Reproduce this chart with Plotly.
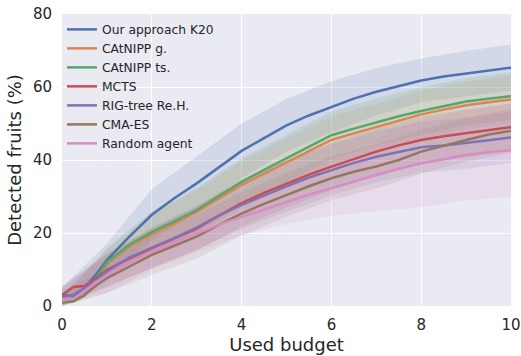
import plotly.graph_objects as go

budget = [0, 0.25, 0.5, 0.75, 1, 1.5, 2, 2.5, 3, 3.5, 4, 4.5, 5, 5.5, 6, 6.5, 7, 7.5, 8, 8.5, 9, 9.5, 10]

names = ["Our approach K20", "CAtNIPP g.", "CAtNIPP ts.", "MCTS", "RIG-tree Re.H.", "CMA-ES", "Random agent"]

ours = [3.0, 2.7, 5.0, 8.5, 12.6, 19.0, 25.0, 29.5, 33.6, 38.0, 42.5, 46.0, 49.5, 52.2, 54.6, 56.8, 58.7, 60.3, 61.8, 62.9, 63.7, 64.5, 65.3]
catnipp_g = [0.9, 1.2, 2.8, 7.0, 11.5, 16.2, 19.7, 22.6, 25.8, 29.5, 33.2, 36.3, 39.3, 42.5, 45.5, 47.3, 49.0, 50.8, 52.5, 53.8, 55.0, 55.8, 56.6]
catnipp_ts = [0.9, 1.3, 3.0, 7.5, 12.0, 16.8, 20.3, 23.2, 26.3, 30.2, 34.0, 37.3, 40.5, 43.8, 46.8, 48.6, 50.4, 52.0, 53.4, 54.7, 56.0, 56.8, 57.5]
mcts = [3.0, 5.2, 5.5, 7.5, 9.9, 13.0, 15.8, 18.5, 21.2, 24.8, 28.2, 31.0, 33.5, 36.0, 38.2, 40.3, 42.3, 44.0, 45.5, 46.5, 47.3, 48.2, 49.0]
rig_tree = [2.5, 3.0, 5.0, 7.0, 9.5, 13.3, 16.0, 18.6, 21.5, 24.8, 27.7, 30.3, 32.8, 35.2, 37.3, 39.2, 40.9, 42.3, 43.5, 44.0, 44.6, 45.4, 46.2]
cma_es = [1.2, 1.5, 3.0, 5.5, 7.6, 10.8, 14.0, 16.5, 19.0, 22.3, 25.3, 28.0, 30.5, 32.8, 35.0, 36.8, 38.2, 40.0, 42.3, 44.0, 45.5, 47.0, 48.0]
random_agent = [1.5, 2.0, 4.0, 6.5, 8.5, 12.0, 15.0, 17.5, 19.8, 22.3, 24.4, 26.5, 28.5, 30.5, 32.3, 34.2, 35.9, 37.6, 39.1, 40.2, 41.4, 42.1, 42.7]

# band half-widths (spread around mean)
band_budget = [0, 1, 2, 3, 4, 5, 6, 7, 8, 9, 10]
ours_spread = [2.0, 4.5, 7.0, 7.5, 7.5, 7.2, 7.0, 6.5, 6.0, 6.2, 6.3]
catnipp_g_spread = [1.5, 4.0, 5.5, 6.0, 6.5, 6.5, 6.5, 6.5, 6.5, 6.5, 6.5]
catnipp_ts_spread = [1.5, 4.0, 5.5, 6.0, 6.5, 6.5, 6.5, 6.5, 6.5, 6.5, 6.5]
mcts_spread = [2.5, 4.5, 5.5, 6.0, 6.5, 6.5, 6.5, 6.5, 6.5, 6.5, 6.5]
rig_tree_spread = [2.5, 4.5, 5.5, 6.0, 6.5, 7.0, 7.0, 7.0, 7.0, 7.0, 7.0]
cma_es_spread = [1.5, 4.0, 5.5, 6.0, 6.0, 6.0, 6.0, 6.0, 6.0, 6.0, 6.0]
random_spread = [2.5, 5.0, 5.0, 5.0, 5.0, 6.0, 7.5, 10.0, 12.0, 12.5, 12.7]

series = [ours, catnipp_g, catnipp_ts, mcts, rig_tree, cma_es, random_agent]
spreads = [ours_spread, catnipp_g_spread, catnipp_ts_spread, mcts_spread, rig_tree_spread, cma_es_spread, random_spread]
colors = ["#4C72B0", "#DD8452", "#55A868", "#C44E52", "#8172B3", "#937860", "#DA8BC3"]


def hex_rgba(h, a):
    h = h.lstrip("#")
    r, g, b = int(h[0:2], 16), int(h[2:4], 16), int(h[4:6], 16)
    return f"rgba({r},{g},{b},{a})"


def mean_at(xs, ys, x):
    for i in range(len(xs) - 1):
        if xs[i] <= x <= xs[i + 1]:
            t = (x - xs[i]) / (xs[i + 1] - xs[i])
            return ys[i] + t * (ys[i + 1] - ys[i])
    return ys[-1]


fig = go.Figure()

for ys, sp, c in zip(series, spreads, colors):
    centre = [mean_at(budget, ys, x) for x in band_budget]
    upper = [m + s for m, s in zip(centre, sp)]
    lower = [max(m - s, 0) for m, s in zip(centre, sp)]
    fig.add_trace(go.Scatter(
        x=band_budget + band_budget[::-1],
        y=upper + lower[::-1],
        fill="toself", fillcolor=hex_rgba(c, 0.15),
        line=dict(width=0), mode="lines",
        showlegend=False, hoverinfo="skip"))

for name, ys, c in zip(names, series, colors):
    fig.add_trace(go.Scatter(
        x=budget, y=ys, name=name, mode="lines",
        line=dict(color=c, width=2.5)))

fig.update_layout(
    width=521, height=356,
    margin=dict(l=62, r=10, t=14, b=50, autoexpand=False),
    paper_bgcolor="white",
    plot_bgcolor="#EAEAF2",
    font=dict(family="DejaVu Sans", size=15, color="#262626"),
    legend=dict(x=0.0, y=0.997, xanchor="left", yanchor="top",
                bgcolor="rgba(0,0,0,0)", font=dict(size=12.3),
                tracegroupgap=0),
    showlegend=True,
)
fig.update_xaxes(range=[0, 10], tickvals=[0, 2, 4, 6, 8, 10],
                 showgrid=True, gridcolor="white", gridwidth=1,
                 zeroline=False, showline=False, ticks="outside",
                 ticklen=5, tickcolor="rgba(0,0,0,0)", automargin=False,
                 title=dict(text="Used budget", standoff=1))
fig.update_yaxes(range=[0, 80], tickvals=[0, 20, 40, 60, 80],
                 showgrid=True, gridcolor="white", gridwidth=1,
                 zeroline=False, showline=False, ticks="outside",
                 ticklen=6, tickcolor="rgba(0,0,0,0)", automargin=False,
                 title=dict(text="Detected fruits (%)", standoff=6))

fig.write_html("out.html", config={"displayModeBar": False},
               post_script="document.body.style.margin='0px';")
